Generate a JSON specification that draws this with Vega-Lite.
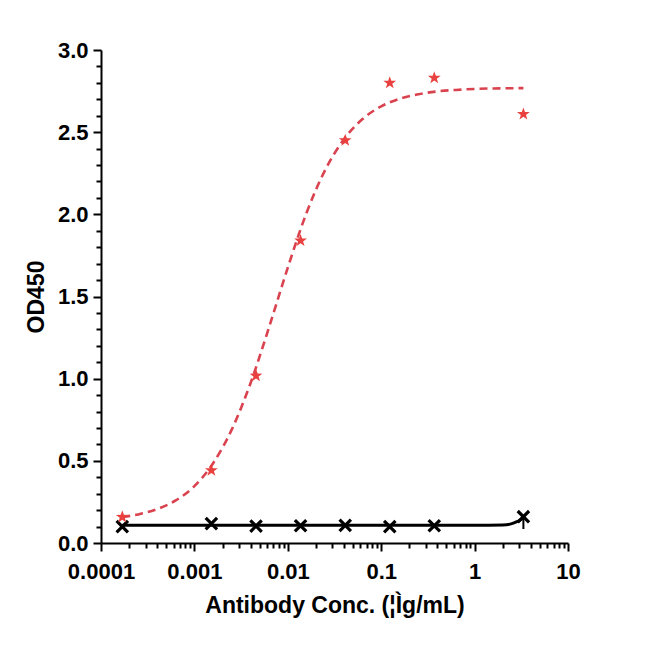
{
  "$schema": "https://vega.github.io/schema/vega-lite/v6.json",
  "width": 467,
  "height": 493,
  "autosize": "none",
  "padding": {"left": 101, "top": 50, "right": 82, "bottom": 107},
  "background": "white",
  "config": {
    "view": {"stroke": null},
    "axis": {
      "grid": false,
      "domainColor": "black",
      "domainWidth": 2,
      "tickColor": "black",
      "tickWidth": 2,
      "labelFont": "Liberation Sans",
      "labelFontWeight": "bold",
      "labelFontSize": 22,
      "labelColor": "black",
      "titleFont": "Liberation Sans",
      "titleFontWeight": "bold",
      "titleFontSize": 23,
      "titleColor": "black"
    }
  },
  "datasets": {
    "points": [
      {"conc": 0.000169, "od": 0.158, "series": "target"},
      {"conc": 0.00152, "od": 0.442, "series": "target"},
      {"conc": 0.00457, "od": 1.018, "series": "target"},
      {"conc": 0.0137, "od": 1.84, "series": "target"},
      {"conc": 0.0412, "od": 2.45, "series": "target"},
      {"conc": 0.1235, "od": 2.8, "series": "target"},
      {"conc": 0.37, "od": 2.83, "series": "target"},
      {"conc": 3.33, "od": 2.61, "series": "target"},
      {"conc": 0.000169, "od": 0.1, "series": "control"},
      {"conc": 0.00152, "od": 0.118, "series": "control"},
      {"conc": 0.00457, "od": 0.103, "series": "control"},
      {"conc": 0.0137, "od": 0.105, "series": "control"},
      {"conc": 0.0412, "od": 0.107, "series": "control"},
      {"conc": 0.1235, "od": 0.1, "series": "control"},
      {"conc": 0.37, "od": 0.105, "series": "control"},
      {"conc": 3.33, "od": 0.16, "series": "control"}
    ],
    "fit": [
      {"conc": 0.000169, "od": 0.158, "series": "target"},
      {"conc": 0.000251, "od": 0.174, "series": "target"},
      {"conc": 0.000398, "od": 0.206, "series": "target"},
      {"conc": 0.000631, "od": 0.259, "series": "target"},
      {"conc": 0.001, "od": 0.346, "series": "target"},
      {"conc": 0.00158, "od": 0.484, "series": "target"},
      {"conc": 0.00251, "od": 0.69, "series": "target"},
      {"conc": 0.00398, "od": 0.971, "series": "target"},
      {"conc": 0.00631, "od": 1.314, "series": "target"},
      {"conc": 0.01, "od": 1.676, "series": "target"},
      {"conc": 0.0158, "od": 2.006, "series": "target"},
      {"conc": 0.0251, "od": 2.269, "series": "target"},
      {"conc": 0.0398, "od": 2.456, "series": "target"},
      {"conc": 0.0631, "od": 2.58, "series": "target"},
      {"conc": 0.1, "od": 2.657, "series": "target"},
      {"conc": 0.158, "od": 2.704, "series": "target"},
      {"conc": 0.251, "od": 2.731, "series": "target"},
      {"conc": 0.398, "od": 2.748, "series": "target"},
      {"conc": 0.631, "od": 2.757, "series": "target"},
      {"conc": 1, "od": 2.763, "series": "target"},
      {"conc": 1.585, "od": 2.766, "series": "target"},
      {"conc": 3.33, "od": 2.768, "series": "target"},
      {"conc": 0.000169, "od": 0.108, "series": "control"},
      {"conc": 0.01, "od": 0.108, "series": "control"},
      {"conc": 0.1, "od": 0.108, "series": "control"},
      {"conc": 1, "od": 0.108, "series": "control"},
      {"conc": 2, "od": 0.11, "series": "control"},
      {"conc": 2.4, "od": 0.115, "series": "control"},
      {"conc": 2.8, "od": 0.128, "series": "control"},
      {"conc": 3.1, "od": 0.142, "series": "control"},
      {"conc": 3.33, "od": 0.155, "series": "control"}
    ],
    "errs": [
      {"conc": 3.33, "od": 0.085, "od_hi": 0.165, "series": "control"}
    ]
  },
  "encoding": {
    "x": {
      "field": "conc",
      "type": "quantitative",
      "title": "Antibody Conc. (¦Ìg/mL)",
      "scale": {"type": "log", "domain": [0.0001, 10], "nice": false},
      "axis": {
        "values": [0.0001, 0.0002, 0.0003, 0.0004, 0.0005, 0.0006, 0.0007, 0.0008, 0.0009,
                   0.001, 0.002, 0.003, 0.004, 0.005, 0.006, 0.007, 0.008, 0.009,
                   0.01, 0.02, 0.03, 0.04, 0.05, 0.06, 0.07, 0.08, 0.09,
                   0.1, 0.2, 0.3, 0.4, 0.5, 0.6, 0.7, 0.8, 0.9,
                   1, 2, 3, 4, 5, 6, 7, 8, 9, 10],
        "labelExpr": "abs(log(datum.value)/LN10 - round(log(datum.value)/LN10)) < 0.001 ? format(datum.value, '~g') : ''",
        "tickSize": {"condition": {"test": "abs(log(datum.value)/LN10 - round(log(datum.value)/LN10)) < 0.001", "value": 8}, "value": 5},
        "labelPadding": 10,
        "labelFlush": false,
        "labelOverlap": false,
        "titlePadding": 12
      }
    },
    "y": {
      "field": "od",
      "type": "quantitative",
      "title": "OD450",
      "scale": {"domain": [0, 3], "nice": false},
      "axis": {
        "values": [0, 0.1, 0.2, 0.3, 0.4, 0.5, 0.6, 0.7, 0.8, 0.9, 1, 1.1, 1.2, 1.3, 1.4, 1.5, 1.6, 1.7, 1.8, 1.9, 2, 2.1, 2.2, 2.3, 2.4, 2.5, 2.6, 2.7, 2.8, 2.9, 3],
        "labelExpr": "abs(datum.value*2 - round(datum.value*2)) < 0.001 ? format(datum.value, '.1f') : ''",
        "tickSize": {"condition": {"test": "abs(datum.value*2 - round(datum.value*2)) < 0.001", "value": 8}, "value": 5},
        "labelPadding": 5,
        "labelFlush": false,
        "labelOverlap": false,
        "titlePadding": 9
      }
    }
  },
  "layer": [
    {
      "data": {"name": "fit"},
      "transform": [{"filter": "datum.series == 'control'"}],
      "mark": {"type": "line", "color": "black", "strokeWidth": 3, "interpolate": "monotone"}
    },
    {
      "data": {"name": "fit"},
      "transform": [{"filter": "datum.series == 'target'"}],
      "mark": {"type": "line", "color": "#d9434f", "strokeWidth": 2.6, "strokeDash": [8, 5], "interpolate": "monotone"}
    },
    {
      "data": {"name": "errs"},
      "mark": {"type": "rule", "color": "black", "strokeWidth": 2},
      "encoding": {"y2": {"field": "od_hi"}}
    },
    {
      "data": {"name": "points"},
      "transform": [{"filter": "datum.series == 'control'"}],
      "mark": {
        "type": "point",
        "shape": "M-1,-1L1,1M-1,1L1,-1",
        "filled": false,
        "stroke": "black",
        "strokeWidth": 3.2,
        "size": 130,
        "opacity": 1
      }
    },
    {
      "data": {"name": "points"},
      "transform": [{"filter": "datum.series == 'target'"}],
      "mark": {
        "type": "point",
        "shape": "M0,-1L0.235,-0.324L0.951,-0.309L0.38,0.124L0.588,0.809L0,0.4L-0.588,0.809L-0.38,0.124L-0.951,-0.309L-0.235,-0.324Z",
        "filled": true,
        "color": "#e8413f",
        "size": 180,
        "opacity": 1
      }
    }
  ]
}
